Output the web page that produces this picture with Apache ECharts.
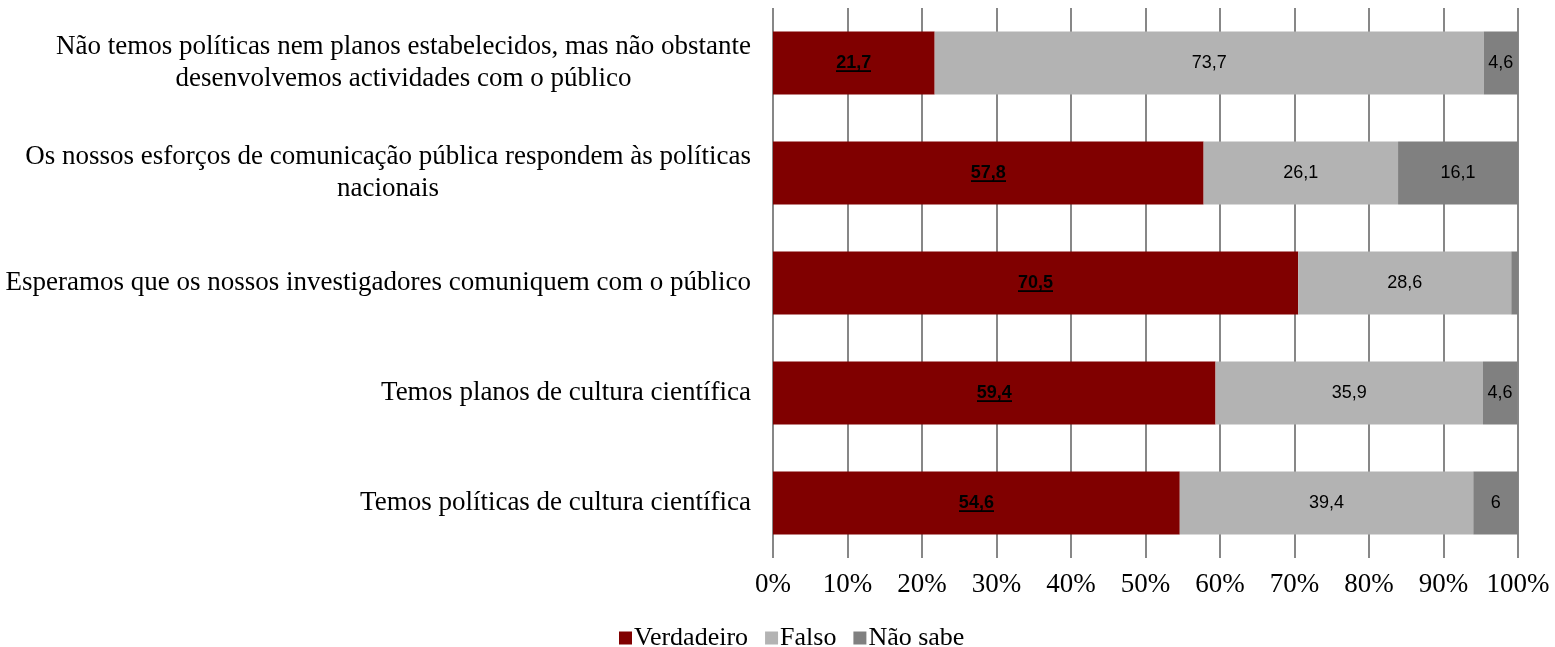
<!DOCTYPE html>
<html><head><meta charset="utf-8">
<script src="https://cdn.jsdelivr.net/npm/echarts@6/dist/echarts.min.js"></script>
<style>html,body{margin:0;padding:0;background:#fff}#c{width:1555px;height:647px}</style>
</head><body><div id="c"></div>
<script>
const categories = [
  "Temos políticas de cultura científica",
  "Temos planos de cultura científica",
  "Esperamos que os nossos investigadores comuniquem com o público",
  "Os nossos esforços de comunicação pública respondem às políticas\nnacionais",
  "Não temos políticas nem planos estabelecidos, mas não obstante\ndesenvolvemos actividades com o público"
];
const verdadeiro = [54.6, 59.4, 70.5, 57.8, 21.7];
const falso = [39.4, 35.9, 28.6, 26.1, 73.7];
const naoSabe = [6, 4.6, 0.9, 16.1, 4.6];
const xTicks = [0, 10, 20, 30, 40, 50, 60, 70, 80, 90, 100];

// underline background image
const ul = document.createElement('canvas');
ul.width = 10; ul.height = 20;
const cx = ul.getContext('2d');
cx.fillStyle = '#000';
cx.fillRect(0, 18, 10, 2);

const fmtNum = v => String(v).replace('.', ',');
const chart = echarts.init(document.getElementById('c'));
chart.setOption({
  animation: false,
  grid: { left: 773, right: 37, top: 8, bottom: 89, containLabel: false },
  legend: {
    top: 620, left: 614,
    itemWidth: 13, itemHeight: 13, itemGap: 17,
    icon: 'rect',
    textStyle: { fontFamily: 'Liberation Serif', fontSize: 26, color: '#000', padding: [0,0,0,-3] },
    data: ['Verdadeiro', 'Falso', 'Não sabe']
  },
  xAxis: {
    type: 'value', min: 0, max: 100, interval: 10,
    axisLine: { show: false }, axisTick: { show: false },
    splitLine: { show: true, lineStyle: { color: '#878787', width: 2 } },
    axisLabel: {
      margin: 13, color: '#000', fontFamily: 'Liberation Serif', fontSize: 27,
      formatter: v => xTicks.includes(v) ? v + '%' : ''
    }
  },
  yAxis: {
    type: 'category', data: categories,
    axisLine: { show: false }, axisTick: { show: false },
    axisLabel: {
      margin: 22, color: '#000', fontFamily: 'Liberation Serif', fontSize: 27, lineHeight: 32,
      formatter: v => v.split('\n').map(s => '{c|' + s + '}').join('\n'),
      rich: { c: { align: 'center', fontFamily: 'Liberation Serif', fontSize: 27, lineHeight: 32, color: '#000' } }
    }
  },
  series: [
    {
      name: 'Verdadeiro', type: 'bar', stack: 't', data: verdadeiro, barWidth: 63,
      itemStyle: { color: '#800000' },
      label: {
        show: true, position: 'inside',
        formatter: p => '{u|' + fmtNum(p.value) + '}',
        rich: { u: { fontFamily: 'Liberation Sans', fontWeight: 'bold', fontSize: 18, color: '#000', lineHeight: 23, backgroundColor: { image: ul } } }
      }
    },
    {
      name: 'Falso', type: 'bar', stack: 't', data: falso, barWidth: 63,
      itemStyle: { color: '#b3b3b3' },
      label: { show: true, position: 'inside', color: '#000', fontFamily: 'Liberation Sans', fontSize: 18, formatter: p => fmtNum(p.value) }
    },
    {
      name: 'Não sabe', type: 'bar', stack: 't', data: naoSabe, barWidth: 63,
      itemStyle: { color: '#808080' },
      label: { show: true, position: 'inside', color: '#000', fontFamily: 'Liberation Sans', fontSize: 18, formatter: p => p.value < 2 ? '' : fmtNum(p.value) }
    }
  ]
});
</script></body></html>
